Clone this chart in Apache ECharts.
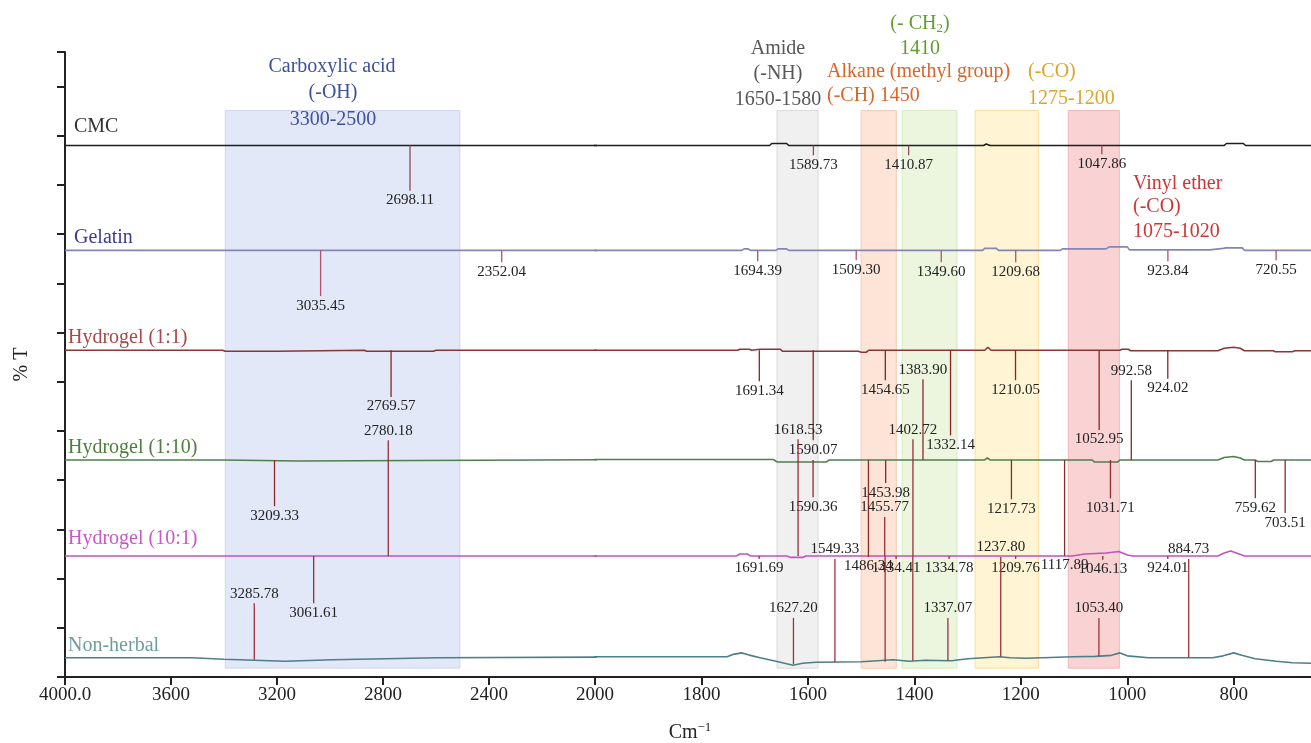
<!DOCTYPE html>
<html>
<head>
<meta charset="utf-8">
<script src="https://cdn.jsdelivr.net/npm/echarts@6/dist/echarts.min.js"></script>
<style>
  html, body { margin: 0; padding: 0; background: #fff; }
  #main { width: 1311px; height: 743px; }
</style>
</head>
<body>
<div id="main"></div>
<script>
// x axis: the spectrum scale doubles below 2000 cm-1, so it is drawn on two grids
const xTicksLeft = [4000, 3600, 3200, 2800, 2400, 2000];
const xTicksRight = [1800, 1600, 1400, 1200, 1000, 800];
const yTicks = [0, 10, 20, 30, 40, 50, 60, 70, 80, 90, 100, 110, 120, 127];

// traces [wavenumber, %T offset]
const cmcLine = [[4000, 108], [1672, 108], [1668, 108.4], [1640, 108.4], [1636, 108], [1270, 108], [1265, 108.3], [1258, 108], [818, 108], [814, 108.4], [782, 108.4], [778, 108], [655, 108]];
const gelatinLine = [[4000, 86.7], [1724, 86.7], [1720, 87.0], [1712, 87.0], [1708, 86.7], [1660, 86.7], [1656, 87.0], [1640, 87.0], [1636, 86.7], [1272, 86.7], [1268, 87.1], [1246, 87.1], [1242, 86.7], [1126, 86.7], [1122, 87.0], [1040, 87.0], [1034, 87.4], [1000, 87.4], [996, 86.8], [845, 86.8], [842, 87.1], [820, 87.1], [815, 87.2], [784, 87.2], [780, 86.7], [655, 86.7]];
const h11Line = [[4000, 66.4], [3405, 66.4], [3396, 66.2], [3200, 66.2], [3195, 66.4], [2870, 66.4], [2862, 66.2], [2610, 66.2], [2600, 66.4], [1732, 66.4], [1728, 66.6], [1710, 66.6], [1706, 66.4], [1690, 66.6], [1652, 66.6], [1648, 66.2], [1505, 66.2], [1500, 66.0], [1490, 66.0], [1486, 66.4], [1268, 66.4], [1262, 67.0], [1256, 66.4], [1014, 66.4], [1010, 66.6], [998, 66.6], [994, 66.3], [830, 66.3], [818, 66.8], [800, 67.0], [788, 66.8], [780, 66.3], [726, 66.3], [722, 66.1], [690, 66.1], [685, 66.3], [655, 66.3]];
const h110Line = [[4000, 44.1], [3400, 44.1], [3396, 43.9], [3120, 43.9], [3115, 44.2], [1665, 44.2], [1658, 43.7], [1565, 43.7], [1560, 44.1], [1268, 44.1], [1263, 44.5], [1258, 44.1], [1066, 44.1], [1062, 43.7], [1018, 43.7], [1014, 44.1], [830, 44.1], [818, 44.6], [800, 44.8], [788, 44.5], [780, 44.1], [760, 44.1], [755, 43.8], [730, 43.8], [725, 44.1], [655, 44.1]];
const h101Line = [[4000, 24.6], [1734, 24.6], [1728, 25.0], [1714, 25.0], [1708, 24.6], [1640, 24.6], [1632, 24.3], [1610, 24.3], [1604, 24.6], [1104, 24.6], [1080, 25.0], [1040, 25.2], [1016, 25.5], [1000, 24.8], [990, 24.6], [830, 24.6], [818, 25.2], [806, 25.6], [795, 25.2], [780, 24.6], [655, 24.6]];
const nonHerbalLine = [[4000, 3.9], [3522, 3.9], [3518, 3.6], [3400, 3.6], [3396, 3.2], [3170, 3.2], [3166, 3.5], [2990, 3.5], [2985, 3.9], [2596, 3.9], [2590, 4.1], [1752, 4.1], [1740, 4.6], [1725, 4.9], [1712, 4.5], [1690, 3.9], [1660, 3.2], [1628, 2.4], [1610, 2.8], [1585, 3.0], [1500, 3.1], [1497, 3.5], [1440, 3.5], [1410, 3.2], [1380, 3.4], [1330, 3.3], [1300, 3.7], [1270, 3.9], [1240, 4.1], [1220, 3.9], [1190, 3.8], [1160, 3.9], [1102, 4.1], [1060, 4.2], [1030, 4.4], [1014, 4.9], [1000, 4.3], [960, 3.9], [900, 3.9], [840, 3.9], [820, 4.3], [800, 4.9], [785, 4.4], [760, 3.7], [720, 3.2], [690, 2.9], [655, 2.8]];

// peaks [wavenumber, from, to, (0 = no label)]
const cmcPeaks = [[2698.11, 108, 98.8], [1589.73, 108, 106.0], [1410.87, 108, 106.0], [1047.86, 108, 106.2]];
const gelatinPeaks = [[3035.45, 86.7, 77.4], [2352.04, 86.7, 84.3], [1694.39, 86.7, 84.5], [1509.30, 86.7, 84.7], [1349.60, 86.7, 84.3], [1209.68, 86.7, 84.3], [923.84, 86.7, 84.5], [720.55, 86.7, 84.7]];
const h11Peaks = [[2769.57, 66.4, 56.9], [1691.34, 66.4, 60.1], [1590.07, 66.4, 48.1], [1454.65, 66.4, 60.3], [1332.14, 66.4, 49.1], [1210.05, 66.4, 60.3], [1052.95, 66.4, 50.2], [924.02, 66.4, 60.6]];
const h110Peaks = [[3209.33, 44.1, 34.7], [1590.36, 44.1, 36.5], [1486.34, 44.1, 24.4], [1453.98, 44.1, 39.4], [1383.90, 44.1, 60.5], [1217.73, 44.1, 36.1], [1117.89, 44.1, 24.6], [1031.71, 44.1, 36.3], [992.58, 44.1, 60.3], [759.62, 44.1, 36.3], [703.51, 44.1, 33.3]];
const h101Peaks = [[3061.61, 24.6, 15.0], [2780.18, 24.6, 48.1], [1691.69, 24.6, 24.0], [1618.53, 24.6, 48.3], [1455.77, 24.6, 32.5], [1434.41, 24.6, 24.0], [1402.72, 24.6, 48.3], [1334.78, 24.6, 24.0], [1209.76, 24.6, 24.0], [1046.13, 24.6, 23.8], [924.01, 24.6, 24.0]];
const nonHerbalPeaks = [[3285.78, 3.5, 15.0], [1627.20, 2.6, 12.0], [1549.33, 3.0, 24.0], [1455, 3.1, 24.6, 0], [1403, 3.3, 24.6, 0], [1337.07, 3.3, 12.0], [1237.80, 4.1, 24.4], [1053.40, 4.2, 12.0], [884.73, 3.9, 24.0]];

// shaded bands [from, to] and their vertical extent
const bandRanges = [[3395, 2510], [1658, 1581], [1500, 1434], [1423, 1320], [1286, 1167], [1111, 1015]];
const bandTop = 115.1;
const bandBottom = 1.8;

const SERIF = '"Liberation Serif", "DejaVu Serif", serif';
const bandStyles = [
  { fill: '#e3e8f8', stroke: '#cdd6ef' },
  { fill: '#f0f0f0', stroke: '#dadada' },
  { fill: '#fde4d6', stroke: '#f6cbb0' },
  { fill: '#ecf6df', stroke: '#d7ebc0' },
  { fill: '#fff4d3', stroke: '#f6e0a3' },
  { fill: '#f9d2d3', stroke: '#f1b6b8' }
];

const traces = [
  { line: cmcLine, peaks: cmcPeaks, color: '#1e1e1e', spike: '#8c4a5a' },
  { line: gelatinLine, peaks: gelatinPeaks, color: '#8585b2', spike: '#b5506a' },
  { line: h11Line, peaks: h11Peaks, color: '#8b3535', spike: '#8b2323' },
  { line: h110Line, peaks: h110Peaks, color: '#4f7f4f', spike: '#8b2a2a' },
  { line: h101Line, peaks: h101Peaks, color: '#c152c1', spike: '#9a2d3a' },
  { line: nonHerbalLine, peaks: nonHerbalPeaks, color: '#4e7e86', spike: '#a0303c' }
];

function onSide(wn, gi) {
  return gi === 0 ? wn >= 2000 : wn < 2000;
}

function bandSeries(gi) {
  const list = [];
  bandRanges.forEach((b, i) => { if (onSide(b[0], gi)) list.push(i); });
  return {
    type: 'custom', xAxisIndex: gi, yAxisIndex: gi, z: 1, silent: true,
    data: list.map(i => [bandRanges[i][0], bandRanges[i][1]]),
    renderItem: function (params, api) {
      const s = bandStyles[list[params.dataIndex]];
      const a = api.coord([api.value(0), bandTop]);
      const b = api.coord([api.value(1), bandBottom]);
      return {
        type: 'rect',
        shape: { x: Math.min(a[0], b[0]), y: a[1], width: Math.abs(b[0] - a[0]), height: b[1] - a[1] },
        style: { fill: s.fill, stroke: s.stroke, lineWidth: 1 }
      };
    }
  };
}

function spikeSeries(peaks, color, gi) {
  const list = peaks.filter(p => onSide(p[0], gi));
  return {
    type: 'custom', xAxisIndex: gi, yAxisIndex: gi, z: 4, silent: true, clip: false,
    data: list.map(p => [p[0], p[1], p[2]]),
    renderItem: function (params, api) {
      const p = list[params.dataIndex];
      const a = api.coord([api.value(0), api.value(1)]);
      const b = api.coord([api.value(0), api.value(2)]);
      const up = p[2] > p[1];
      const kids = [{
        type: 'line',
        shape: { x1: a[0], y1: a[1], x2: b[0], y2: b[1] },
        style: { stroke: color, lineWidth: 1.3 }
      }];
      if (p[3] !== 0) {
        kids.push({
          type: 'text',
          x: b[0], y: up ? b[1] - 2 : b[1] + 2,
          style: {
            text: p[0].toFixed(2), fill: '#222', font: '15px ' + SERIF,
            textAlign: 'center', textVerticalAlign: up ? 'bottom' : 'top'
          }
        });
      }
      return { type: 'group', children: kids };
    }
  };
}

const series = [];
[0, 1].forEach(gi => {
  series.push(bandSeries(gi));
  traces.forEach(t => {
    series.push({
      type: 'line', xAxisIndex: gi, yAxisIndex: gi, data: t.line, showSymbol: false,
      silent: true, z: 3, lineStyle: { color: t.color, width: 1.6 }
    });
    series.push(spikeSeries(t.peaks, t.spike, gi));
  });
});

function xAxis(gi, min, max, ticks) {
  return {
    type: 'value', gridIndex: gi, min: min, max: max, inverse: true,
    axisLine: { lineStyle: { color: '#222', width: 2 } },
    axisTick: { customValues: ticks, length: 8, lineStyle: { color: '#222', width: 2 } },
    axisLabel: {
      customValues: ticks, margin: 9, color: '#222', fontSize: 19, fontFamily: SERIF,
      formatter: v => (v === 4000 ? '4000.0' : String(v))
    },
    splitLine: { show: false }
  };
}

function txt(x, y, text, fill, align, rich) {
  return {
    type: 'text', x: x, y: y, z: 10, silent: true,
    style: {
      text: text, fill: fill, font: '20px ' + SERIF,
      textAlign: align || 'center', textVerticalAlign: 'middle', rich: rich
    }
  };
}

const subRich = { s: { fontSize: 13, fontFamily: SERIF, fill: '#5f9e2e', padding: [10, 0, 0, 0] } };
const supRich = {
  b: { fontSize: 20, fontFamily: SERIF, fill: '#222' },
  p: { fontSize: 13, fontFamily: SERIF, fill: '#222', padding: [0, 0, 10, 0] }
};

const graphic = [
  txt(332, 67, 'Carboxylic acid', '#3d519c'),
  txt(333, 93, '(-OH)', '#3d519c'),
  txt(333, 120, '3300-2500', '#3d519c'),
  txt(778, 49, 'Amide', '#575757'),
  txt(778, 74, '(-NH)', '#575757'),
  txt(778, 100, '1650-1580', '#575757'),
  txt(920, 24, '(- CH{s|2})', '#5f9e2e', 'center', subRich),
  txt(920, 49, '1410', '#5f9e2e'),
  txt(827, 72, 'Alkane (methyl group)', '#d9652d', 'left'),
  txt(827, 96, '(-CH) 1450', '#d9652d', 'left'),
  txt(1028, 72, '(-CO)', '#dca52a', 'left'),
  txt(1028, 99, '1275-1200', '#dca52a', 'left'),
  txt(1133, 184, 'Vinyl ether', '#cf3535', 'left'),
  txt(1133, 207, '(-CO)', '#cf3535', 'left'),
  txt(1133, 232, '1075-1020', '#cf3535', 'left'),
  txt(74, 127, 'CMC', '#333333', 'left'),
  txt(74, 238, 'Gelatin', '#3b3b8f', 'left'),
  txt(68, 338, 'Hydrogel (1:1)', '#a94646', 'left'),
  txt(68, 448, 'Hydrogel (1:10)', '#4e7e3e', 'left'),
  txt(68, 539, 'Hydrogel (10:1)', '#c957c6', 'left'),
  txt(68, 646, 'Non-herbal', '#6e9e9c', 'left'),
  txt(690, 733, '{b|Cm}{p|\u22121}', '#222', 'center', supRich)
];

const chart = echarts.init(document.getElementById('main'));
chart.setOption({
  animation: false,
  backgroundColor: '#fff',
  grid: [
    { left: 65, width: 530, top: 52, bottom: 66 },
    { left: 595, right: 0, top: 52, bottom: 66 }
  ],
  xAxis: [xAxis(0, 2000, 4000, xTicksLeft), xAxis(1, 655, 2000, xTicksRight)],
  yAxis: [
    {
      type: 'value', gridIndex: 0, min: 0, max: 127,
      name: '% T', nameLocation: 'middle', nameGap: 33,
      nameTextStyle: { fontSize: 20, fontFamily: SERIF, color: '#222' },
      axisLine: { show: true, lineStyle: { color: '#222', width: 2 } },
      axisTick: { show: true, customValues: yTicks, length: 8, lineStyle: { color: '#222', width: 2 } },
      axisLabel: { show: false },
      splitLine: { show: false }
    },
    { type: 'value', gridIndex: 1, min: 0, max: 127, show: false, splitLine: { show: false } }
  ],
  graphic: graphic,
  series: series
});
</script>
</body>
</html>
